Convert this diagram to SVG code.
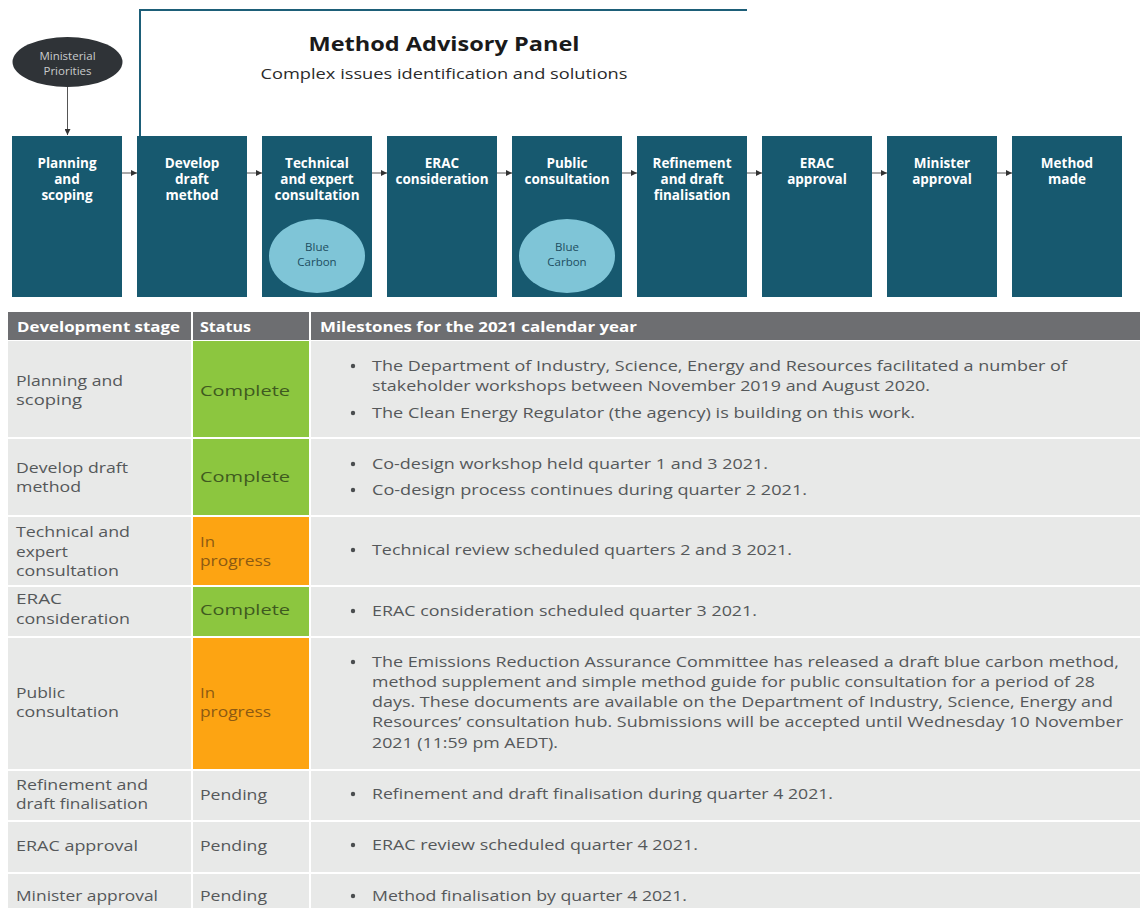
<svg xmlns="http://www.w3.org/2000/svg" width="1140" height="908" viewBox="0 0 1140 908">
  <style>
    text { font-family: "Open Sans", "Noto Sans", "Liberation Sans", sans-serif; }
    .stage { fill: #17596f; }
    .stage-t { fill: #ffffff; font-size: 13.5px; font-weight: bold; text-anchor: middle; }
    .bc { fill: #7fc5d7; }
    .bc-t { fill: #1d4d60; font-size: 11.5px; text-anchor: middle; }
    .hdr { fill: #6d6e71; }
    .hdr-t { fill: #ffffff; font-size: 15px; font-weight: bold; }
    .row { fill: #e8e9e8; }
    .green { fill: #8cc63f; }
    .orange { fill: #fda412; }
    .c1 { fill: #55585a; font-size: 14px; }
    .st-g { fill: #3f5a20; font-size: 15px; }
    .st-o { fill: #8c5a12; font-size: 14px; }
    .st-p { fill: #55585a; font-size: 15px; }
    .ms { fill: #55585a; font-size: 15px; }
    .bul { fill: #4a4d4f; }
    .conn { stroke: #555555; stroke-width: 1; fill: none; }
  </style>
  <defs>
    <marker id="arr" viewBox="0 0 6 6" refX="6" refY="3" markerWidth="6" markerHeight="6" markerUnits="userSpaceOnUse" orient="auto">
      <path d="M0,0 L6,3 L0,6 z" fill="#333333"/>
    </marker>
  </defs>

  <rect x="0" y="0" width="1140" height="908" fill="#ffffff"/>

  <!-- Method Advisory Panel bracket and heading -->
  <g id="advisory-panel">
    <path d="M140,136 V10 H747" fill="none" stroke="#1d5e78" stroke-width="2"/>
    <text x="444" y="51" text-anchor="middle" font-size="19" font-weight="bold" fill="#1a1a1a" textLength="271" lengthAdjust="spacingAndGlyphs">Method Advisory Panel</text>
    <text x="444" y="79" text-anchor="middle" font-size="15" fill="#2a2a2a" textLength="367" lengthAdjust="spacingAndGlyphs">Complex issues identification and solutions</text>
  </g>

  <!-- Ministerial Priorities -->
  <g id="ministerial-priorities">
    <ellipse cx="67.5" cy="62" rx="55" ry="25" fill="#2f3337"/>
    <text x="67.5" y="60" text-anchor="middle" font-size="11.5" fill="#c9cbcc">Ministerial</text>
    <text x="67.5" y="75" text-anchor="middle" font-size="11.5" fill="#c9cbcc">Priorities</text>
  </g>

  <!-- Connectors -->
  <g id="connectors">
    <line class="conn" x1="67.5" y1="87" x2="67.5" y2="135" stroke="#8a8a8a" marker-end="url(#arr)"/>
    <line class="conn" x1="122" y1="173" x2="137" y2="173" marker-end="url(#arr)"/>
    <line class="conn" x1="247" y1="173" x2="262" y2="173" marker-end="url(#arr)"/>
    <line class="conn" x1="372" y1="173" x2="387" y2="173" marker-end="url(#arr)"/>
    <line class="conn" x1="497" y1="173" x2="512" y2="173" marker-end="url(#arr)"/>
    <line class="conn" x1="622" y1="173" x2="637" y2="173" marker-end="url(#arr)"/>
    <line class="conn" x1="747" y1="173" x2="762" y2="173" marker-end="url(#arr)"/>
    <line class="conn" x1="872" y1="173" x2="887" y2="173" marker-end="url(#arr)"/>
    <line class="conn" x1="997" y1="173" x2="1012" y2="173" marker-end="url(#arr)"/>
  </g>

  <!-- Stage boxes -->
  <g id="stage-planning">
    <rect class="stage" x="12" y="136" width="110" height="161"/>
    <text class="stage-t" x="67" y="168">Planning</text>
    <text class="stage-t" x="67" y="184">and</text>
    <text class="stage-t" x="67" y="200">scoping</text>
  </g>
  <g id="stage-develop">
    <rect class="stage" x="137" y="136" width="110" height="161"/>
    <text class="stage-t" x="192" y="168">Develop</text>
    <text class="stage-t" x="192" y="184">draft</text>
    <text class="stage-t" x="192" y="200">method</text>
  </g>
  <g id="stage-technical">
    <rect class="stage" x="262" y="136" width="110" height="161"/>
    <text class="stage-t" x="317" y="168">Technical</text>
    <text class="stage-t" x="317" y="184">and expert</text>
    <text class="stage-t" x="317" y="200">consultation</text>
    <ellipse class="bc" cx="317" cy="256" rx="48" ry="37"/>
    <text class="bc-t" x="317" y="251">Blue</text>
    <text class="bc-t" x="317" y="266">Carbon</text>
  </g>
  <g id="stage-erac-consideration">
    <rect class="stage" x="387" y="136" width="110" height="161"/>
    <text class="stage-t" x="442" y="168">ERAC</text>
    <text class="stage-t" x="442" y="184">consideration</text>
  </g>
  <g id="stage-public">
    <rect class="stage" x="512" y="136" width="110" height="161"/>
    <text class="stage-t" x="567" y="168">Public</text>
    <text class="stage-t" x="567" y="184">consultation</text>
    <ellipse class="bc" cx="567" cy="256" rx="48" ry="37"/>
    <text class="bc-t" x="567" y="251">Blue</text>
    <text class="bc-t" x="567" y="266">Carbon</text>
  </g>
  <g id="stage-refinement">
    <rect class="stage" x="637" y="136" width="110" height="161"/>
    <text class="stage-t" x="692" y="168">Refinement</text>
    <text class="stage-t" x="692" y="184">and draft</text>
    <text class="stage-t" x="692" y="200">finalisation</text>
  </g>
  <g id="stage-erac-approval">
    <rect class="stage" x="762" y="136" width="110" height="161"/>
    <text class="stage-t" x="817" y="168">ERAC</text>
    <text class="stage-t" x="817" y="184">approval</text>
  </g>
  <g id="stage-minister">
    <rect class="stage" x="887" y="136" width="110" height="161"/>
    <text class="stage-t" x="942" y="168">Minister</text>
    <text class="stage-t" x="942" y="184">approval</text>
  </g>
  <g id="stage-made">
    <rect class="stage" x="1012" y="136" width="110" height="161"/>
    <text class="stage-t" x="1067" y="168">Method</text>
    <text class="stage-t" x="1067" y="184">made</text>
  </g>

  <!-- Milestones table -->
  <g id="table">
    <!-- header -->
    <rect class="hdr" x="8" y="312" width="1132" height="28"/>
    <rect x="191" y="312" width="2" height="28" fill="#ffffff"/>
    <rect x="309" y="312" width="2" height="28" fill="#ffffff"/>
    <text class="hdr-t" x="17" y="332" textLength="163" lengthAdjust="spacingAndGlyphs">Development stage</text>
    <text class="hdr-t" x="200" y="332" textLength="51" lengthAdjust="spacingAndGlyphs">Status</text>
    <text class="hdr-t" x="320" y="332" textLength="317" lengthAdjust="spacingAndGlyphs">Milestones for the 2021 calendar year</text>

    <!-- row backgrounds -->
    <rect class="row" x="8" y="341" width="183" height="96"/>
    <rect class="green" x="193" y="341" width="116" height="96"/>
    <rect class="row" x="311" y="341" width="829" height="96"/>

    <rect class="row" x="8" y="439" width="183" height="76"/>
    <rect class="green" x="193" y="439" width="116" height="76"/>
    <rect class="row" x="311" y="439" width="829" height="76"/>

    <rect class="row" x="8" y="517" width="183" height="68"/>
    <rect class="orange" x="193" y="517" width="116" height="68"/>
    <rect class="row" x="311" y="517" width="829" height="68"/>

    <rect class="row" x="8" y="587" width="183" height="49"/>
    <rect class="green" x="193" y="587" width="116" height="49"/>
    <rect class="row" x="311" y="587" width="829" height="49"/>

    <rect class="row" x="8" y="638" width="183" height="131"/>
    <rect class="orange" x="193" y="638" width="116" height="131"/>
    <rect class="row" x="311" y="638" width="829" height="131"/>

    <rect class="row" x="8" y="771" width="183" height="49"/>
    <rect class="row" x="193" y="771" width="116" height="49"/>
    <rect class="row" x="311" y="771" width="829" height="49"/>

    <rect class="row" x="8" y="822" width="183" height="50"/>
    <rect class="row" x="193" y="822" width="116" height="50"/>
    <rect class="row" x="311" y="822" width="829" height="50"/>

    <rect class="row" x="8" y="874" width="183" height="34"/>
    <rect class="row" x="193" y="874" width="116" height="34"/>
    <rect class="row" x="311" y="874" width="829" height="34"/>

    <!-- stage column -->
    <text class="c1" x="16" y="386" textLength="107" lengthAdjust="spacingAndGlyphs">Planning and</text>
    <text class="c1" x="16" y="405" textLength="66" lengthAdjust="spacingAndGlyphs">scoping</text>
    <text class="c1" x="16" y="473" textLength="112" lengthAdjust="spacingAndGlyphs">Develop draft</text>
    <text class="c1" x="16" y="492" textLength="65" lengthAdjust="spacingAndGlyphs">method</text>
    <text class="c1" x="16" y="537" textLength="114" lengthAdjust="spacingAndGlyphs">Technical and</text>
    <text class="c1" x="16" y="557" textLength="52" lengthAdjust="spacingAndGlyphs">expert</text>
    <text class="c1" x="16" y="576" textLength="103" lengthAdjust="spacingAndGlyphs">consultation</text>
    <text class="c1" x="16" y="604" textLength="46" lengthAdjust="spacingAndGlyphs">ERAC</text>
    <text class="c1" x="16" y="624" textLength="114" lengthAdjust="spacingAndGlyphs">consideration</text>
    <text class="c1" x="16" y="698" textLength="49" lengthAdjust="spacingAndGlyphs">Public</text>
    <text class="c1" x="16" y="717" textLength="103" lengthAdjust="spacingAndGlyphs">consultation</text>
    <text class="c1" x="16" y="790" textLength="132" lengthAdjust="spacingAndGlyphs">Refinement and</text>
    <text class="c1" x="16" y="809" textLength="132" lengthAdjust="spacingAndGlyphs">draft finalisation</text>
    <text class="c1" x="16" y="851" textLength="122" lengthAdjust="spacingAndGlyphs">ERAC approval</text>
    <text class="c1" x="16" y="901" textLength="142" lengthAdjust="spacingAndGlyphs">Minister approval</text>

    <!-- status column -->
    <text class="st-g" x="200" y="396" textLength="90" lengthAdjust="spacingAndGlyphs">Complete</text>
    <text class="st-g" x="200" y="482" textLength="90" lengthAdjust="spacingAndGlyphs">Complete</text>
    <text class="st-o" x="200" y="547" textLength="15" lengthAdjust="spacingAndGlyphs">In</text>
    <text class="st-o" x="200" y="566" textLength="71" lengthAdjust="spacingAndGlyphs">progress</text>
    <text class="st-g" x="200" y="615" textLength="90" lengthAdjust="spacingAndGlyphs">Complete</text>
    <text class="st-o" x="200" y="698" textLength="15" lengthAdjust="spacingAndGlyphs">In</text>
    <text class="st-o" x="200" y="717" textLength="71" lengthAdjust="spacingAndGlyphs">progress</text>
    <text class="st-p" x="200" y="800" textLength="67" lengthAdjust="spacingAndGlyphs">Pending</text>
    <text class="st-p" x="200" y="851" textLength="67" lengthAdjust="spacingAndGlyphs">Pending</text>
    <text class="st-p" x="200" y="901" textLength="67" lengthAdjust="spacingAndGlyphs">Pending</text>

    <!-- milestones column -->
    <circle class="bul" cx="353" cy="366" r="2.2"/>
    <text class="ms" x="372" y="371" textLength="695" lengthAdjust="spacingAndGlyphs">The Department of Industry, Science, Energy and Resources facilitated a number of</text>
    <text class="ms" x="372" y="391" textLength="558" lengthAdjust="spacingAndGlyphs">stakeholder workshops between November 2019 and August 2020.</text>
    <circle class="bul" cx="353" cy="413" r="2.2"/>
    <text class="ms" x="372" y="418" textLength="543" lengthAdjust="spacingAndGlyphs">The Clean Energy Regulator (the agency) is building on this work.</text>

    <circle class="bul" cx="353" cy="464" r="2.2"/>
    <text class="ms" x="372" y="469" textLength="396" lengthAdjust="spacingAndGlyphs">Co-design workshop held quarter 1 and 3 2021.</text>
    <circle class="bul" cx="353" cy="490" r="2.2"/>
    <text class="ms" x="372" y="495" textLength="435" lengthAdjust="spacingAndGlyphs">Co-design process continues during quarter 2 2021.</text>

    <circle class="bul" cx="353" cy="550" r="2.2"/>
    <text class="ms" x="372" y="555" textLength="420" lengthAdjust="spacingAndGlyphs">Technical review scheduled quarters 2 and 3 2021.</text>

    <circle class="bul" cx="353" cy="611" r="2.2"/>
    <text class="ms" x="372" y="616" textLength="385" lengthAdjust="spacingAndGlyphs">ERAC consideration scheduled quarter 3 2021.</text>

    <circle class="bul" cx="353" cy="662" r="2.2"/>
    <text class="ms" x="372" y="667" textLength="747" lengthAdjust="spacingAndGlyphs">The Emissions Reduction Assurance Committee has released a draft blue carbon method,</text>
    <text class="ms" x="372" y="687" textLength="723" lengthAdjust="spacingAndGlyphs">method supplement and simple method guide for public consultation for a period of 28</text>
    <text class="ms" x="372" y="707" textLength="741" lengthAdjust="spacingAndGlyphs">days. These documents are available on the Department of Industry, Science, Energy and</text>
    <text class="ms" x="372" y="727" textLength="751" lengthAdjust="spacingAndGlyphs">Resources’ consultation hub. Submissions will be accepted until Wednesday 10 November</text>
    <text class="ms" x="372" y="748" textLength="186" lengthAdjust="spacingAndGlyphs">2021 (11:59 pm AEDT).</text>

    <circle class="bul" cx="353" cy="794" r="2.2"/>
    <text class="ms" x="372" y="799" textLength="461" lengthAdjust="spacingAndGlyphs">Refinement and draft finalisation during quarter 4 2021.</text>

    <circle class="bul" cx="353" cy="845" r="2.2"/>
    <text class="ms" x="372" y="850" textLength="326" lengthAdjust="spacingAndGlyphs">ERAC review scheduled quarter 4 2021.</text>

    <circle class="bul" cx="353" cy="896" r="2.2"/>
    <text class="ms" x="372" y="901" textLength="315" lengthAdjust="spacingAndGlyphs">Method finalisation by quarter 4 2021.</text>
  </g>
</svg>
